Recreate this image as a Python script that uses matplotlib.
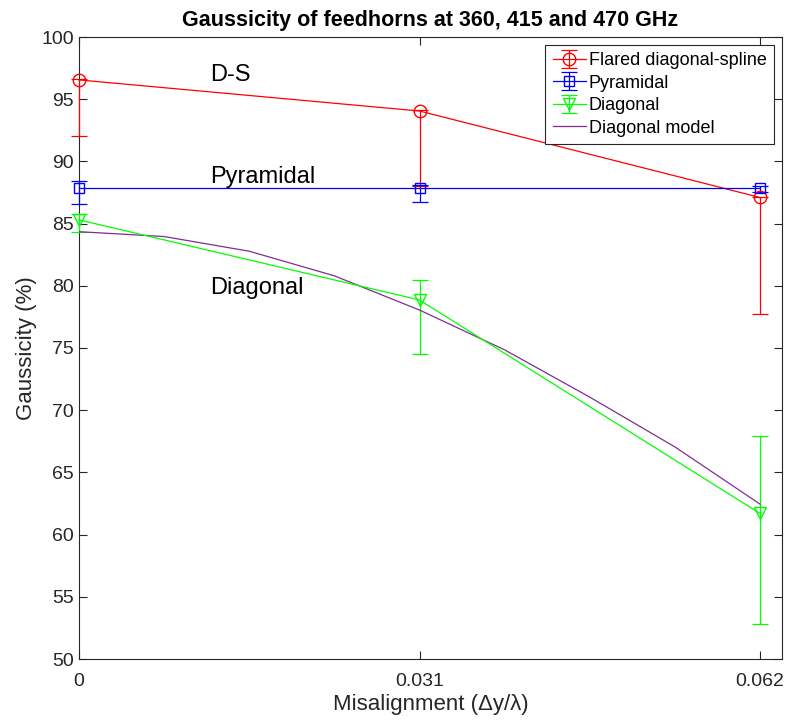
import matplotlib
matplotlib.use("Agg")
import matplotlib.pyplot as plt

plt.rcParams['font.family'] = ['Liberation Sans', 'DejaVu Sans']

x = [0.0, 0.031, 0.062]
ds_vals = [96.55, 94.05, 87.1]
ds_lo = [4.5, 6.0, 9.4]
ds_hi = [0.05, 0.05, 0.05]

pyr_vals = [87.9, 87.9, 87.9]
pyr_lo = [1.3, 1.2, 0.35]
pyr_hi = [0.5, 0.2, 0.1]

diag_vals = [85.3, 78.86, 61.7]
diag_lo = [0.95, 4.35, 8.9]
diag_hi = [0.5, 1.6, 6.2]

model_x = [0.0, 0.00775, 0.0155, 0.02325, 0.031, 0.03875, 0.0465, 0.05425, 0.062]
model_y = [84.35, 83.96, 82.78, 80.8, 78.05, 74.85, 71.05, 67.05, 62.45]

xticks = [0, 0.031, 0.062]
xticklabels = ['0', '0.031', '0.062']
yticks = list(range(50, 101, 5))

fig = plt.figure(figsize=(7.87, 7.24), dpi=100)
ax = fig.add_axes([79/787, 65/724, (782-79)/787, (659-37)/724])

lw = 0.9
h_ds = ax.errorbar(x, ds_vals, yerr=[ds_lo, ds_hi], color='#FF0000', marker='o', ms=9,
                   mfc='none', mec='#FF0000', capsize=6, lw=lw, elinewidth=lw, capthick=lw,
                   label='Flared diagonal-spline', clip_on=False, zorder=3)
h_pyr = ax.errorbar(x, pyr_vals, yerr=[pyr_lo, pyr_hi], color='#0000FF', marker='s', ms=6.5,
                    mfc='none', mec='#0000FF', capsize=6, lw=lw, elinewidth=lw, capthick=lw,
                    label='Pyramidal', clip_on=False, zorder=3)
h_diag = ax.errorbar(x, diag_vals, yerr=[diag_lo, diag_hi], color='#00FF00', marker='v', ms=9,
                     mfc='none', mec='#00FF00', capsize=6, lw=lw, elinewidth=lw, capthick=lw,
                     label='Diagonal', clip_on=False, zorder=3)
h_model, = ax.plot(model_x, model_y, color='#7E2F8E', lw=lw, label='Diagonal model', zorder=3)

ax.text(0.0119, 96.95, 'D-S', fontsize=17, va='center', ha='left')
ax.text(0.0119, 88.75, 'Pyramidal', fontsize=17, va='center', ha='left')
ax.text(0.0119, 79.8, 'Diagonal', fontsize=17, va='center', ha='left')

ax.set_xlim(0, 0.064)
ax.set_ylim(50, 100)
ax.set_xticks(xticks)
ax.set_xticklabels(xticklabels)
ax.set_yticks(yticks)
ax.tick_params(direction='in', top=True, right=True, length=6, width=0.8,
               labelsize=14, colors='#262626')
ax.tick_params(axis='x', pad=10)
for s in ax.spines.values():
    s.set_color('#262626')
    s.set_linewidth(0.8)

ax.set_xlabel('Misalignment (Δy/λ)', fontsize=16, color='#262626', labelpad=3)
ax.set_ylabel('Gaussicity (%)', fontsize=16, color='#262626', labelpad=3)
ax.set_title('Gaussicity of feedhorns at 360, 415 and 470 GHz', fontsize=15.5,
             fontweight='bold', pad=8)

leg = ax.legend([h_ds, h_pyr, h_diag, h_model],
                ['Flared diagonal-spline', 'Pyramidal', 'Diagonal', 'Diagonal model'],
                loc='upper right', fontsize=13, frameon=True, fancybox=False,
                edgecolor='#262626', framealpha=1, borderpad=0.4, labelspacing=0.3,
                handlelength=1.85, handletextpad=0.15, borderaxespad=0.45)
leg.get_frame().set_linewidth(0.8)

fig.savefig('out.png', dpi=100)
